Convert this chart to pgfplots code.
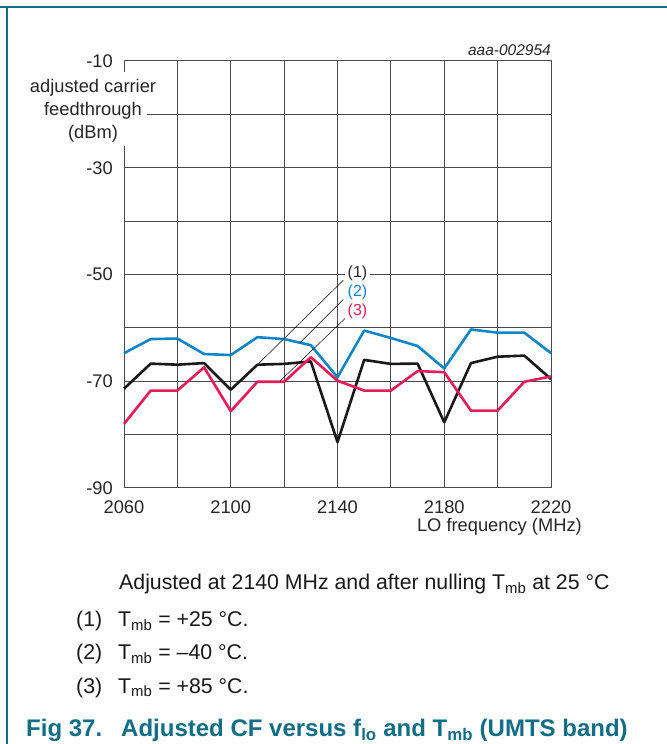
\documentclass[border=0pt]{standalone}
\usepackage{pgfplots}
\pgfplotsset{compat=1.18}
\usepackage{pgfplotstable}
\usepackage{fontspec}
\setmainfont{Liberation Sans}

\definecolor{cfblue}{RGB}{14,134,200}
\definecolor{cfred}{RGB}{230,28,88}
\definecolor{nxpteal}{RGB}{18,110,135}
\definecolor{gridc}{RGB}{75,75,75}

% LO frequency (MHz) vs adjusted carrier feedthrough (dBm)
\pgfplotstableread{
f     t25    tm40    t85
2060  -71.4  -64.75  -78.0
2070  -66.7  -62.1   -71.75
2080  -66.9  -62.0   -71.75
2090  -66.6  -64.9   -67.4
2100  -71.6  -65.1   -75.6
2110  -66.9  -61.75  -70.1
2120  -66.75 -62.1   -70.1
2130  -66.3  -63.25  -65.5
2140  -81.4  -69.25  -69.9
2150  -66.0  -60.5   -71.75
2160  -66.75 -61.9   -71.75
2170  -66.7  -63.4   -68.1
2180  -77.7  -67.6   -68.3
2190  -66.6  -60.3   -75.5
2200  -65.4  -60.9   -75.5
2210  -65.2  -60.9   -70.1
2220  -69.6  -64.75  -69.1
}\cfdata

\begin{document}
\begin{tikzpicture}
\begin{scope}[x=1bp,y=1bp]
\path[use as bounding box] (0,0) rectangle (667,744);
% page frame
\draw[nxpteal, line width=1.6bp] (0,737) -- (667,737);
\draw[nxpteal, line width=1.6bp] (7,737) -- (7,0);
\end{scope}

\begin{axis}[
    at={(124bp,256bp)}, anchor=south west,
    scale only axis, width=427bp, height=427bp,
    xmin=2060, xmax=2220, ymin=-90, ymax=-10,
    xtick={2060,2080,...,2220},
    xticklabels={2060,,2100,,2140,,2180,,2220},
    ytick={-90,-80,...,-10},
    yticklabels={-90,,-70,,-50,,-30,,-10},
    major tick length=0pt,
    grid=major,
    grid style={gridc, line width=1bp},
    axis line style={gridc, line width=1bp},
    every tick label/.append style={font=\fontsize{18.3bp}{20bp}\selectfont, inner sep=0pt, text=black!85},
    xticklabel style={anchor=base, yshift=-25.6bp},
    yticklabel style={anchor=east, xshift=-11bp},
    clip=false,
]
\addplot[black!90, line width=2.6bp, line join=round] table[x=f, y=t25] {\cfdata};
\addplot[cfblue, line width=2.6bp, line join=round] table[x=f, y=tm40] {\cfdata};
\addplot[cfred, line width=2.6bp, line join=round] table[x=f, y=t85] {\cfdata};

% leader lines and curve labels
\draw[black, line width=0.5bp] (axis cs:2142.2,-51.06) -- (axis cs:2110.7,-66.57);
\draw[black, line width=0.5bp] (axis cs:2142.2,-54.68) -- (axis cs:2125.9,-62.82);
\draw[black, line width=0.5bp] (axis cs:2142.8,-58.25) -- (axis cs:2118.4,-70.0);
\node[fill=white, inner sep=2.5bp, text=black!85, font=\fontsize{16bp}{18bp}\selectfont] at (axis cs:2147.5,-49.8) {(1)};
\node[inner sep=0pt, text=cfblue, font=\fontsize{16bp}{18bp}\selectfont] at (axis cs:2147.5,-53.4) {(2)};
\node[inner sep=0pt, text=cfred, font=\fontsize{16bp}{18bp}\selectfont] at (axis cs:2147.5,-57.0) {(3)};
\end{axis}

\begin{scope}[x=1bp,y=1bp]
% y label block, covering the axis line behind it
\fill[white] (118,598) rectangle (147,672);
\node[align=center, inner sep=0pt, text=black!85, font=\fontsize{18.3bp}{23bp}\selectfont] at (93,633) {adjusted carrier\\feedthrough\\(dBm)};
\node[anchor=base east, inner sep=0pt, text=black!85, font=\fontsize{15.5bp}{18bp}\selectfont\itshape] at (551,688) {aaa-002954};
\node[anchor=east, inner sep=0pt, text=black!85, font=\fontsize{18.3bp}{20bp}\selectfont] at (582,217) {LO frequency (MHz)};

% notes under the chart
\begin{scope}[every node/.style={anchor=base west, inner sep=0pt, text=black!90, font=\fontsize{21.3bp}{24bp}\selectfont}]
\node at (119,154) {Adjusted at 2140 MHz and after nulling T\textsubscript{mb} at 25 °C};
\node at (76,117.3) {(1)};
\node at (118,117.3) {T\textsubscript{mb} = +25 °C.};
\node at (76,84) {(2)};
\node at (118,84) {T\textsubscript{mb} = –40 °C.};
\node at (76,50.7) {(3)};
\node at (118,50.7) {T\textsubscript{mb} = +85 °C.};
\end{scope}
\node[anchor=base west, inner sep=0pt, text=nxpteal, font=\fontsize{24bp}{28bp}\selectfont\bfseries] at (26,7.3) {Fig 37.};
\node[anchor=base west, inner sep=0pt, text=nxpteal, font=\fontsize{24bp}{28bp}\selectfont\bfseries] at (121,7.3) {Adjusted CF versus f\textsubscript{lo} and T\textsubscript{mb} (UMTS band)};
\end{scope}
\end{tikzpicture}
\end{document}
